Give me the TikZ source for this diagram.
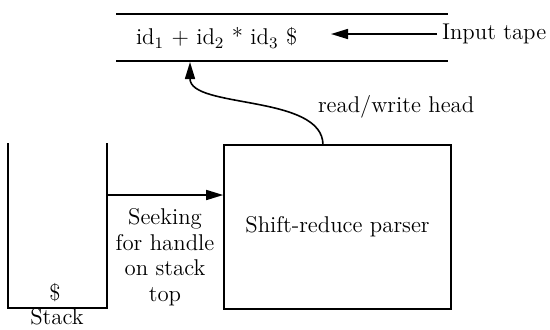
\documentclass[tikz,border=0pt]{standalone}
\usetikzlibrary{arrows.meta,positioning,calc}

\begin{document}
\begin{tikzpicture}[
  x=0.5pt, y=-0.5pt,
  font=\fontsize{11.4}{12.75}\selectfont, >={Triangle[length=8.5pt,width=5pt]},
  nd/.style={inner sep=0pt, outer sep=0pt},
  bx/.style={draw, inner sep=0pt, line width=0.8pt},
  every path/.style={line width=0.8pt}]
  \useasboundingbox (0,0) rectangle (550,329);
  % cinta de entrada
  \coordinate (t1) at (116,14);  \coordinate (t2) at (448,14);
  \coordinate (b1) at (116,61);  \coordinate (b2) at (448,61);
  \draw (t1)--(t2); \draw (b1)--(b2);
  \node[nd, anchor=west] (tape) at (136,38) {id$_1$ + id$_2$ * id$_3$ \$};
  \node[nd, anchor=west, outer sep=2.5pt] (inp) at (437,34) {Input tape};
  \coordinate (tp) at (331,34);
  % pila
  \node[nd, minimum width=49.5pt, minimum height=82.5pt] (stack) at (57.5,225.5) {};
  \node[nd] (bot) at (55,293) {\$};
  \node[nd] (lbl) at (57,317) {Stack};
  % analizador
  \node[bx, minimum width=113.5pt, minimum height=82pt] (parser) at (337.5,227) {Shift-reduce parser};
  \node[nd, align=center] (seek) at (165,257) {Seeking\\for handle\\on stack\\top};
  \node[nd, anchor=west] (rw) at (318,107) {read/write head};
  \coordinate (sk) at (107,195);
  \coordinate (hp) at (323,145);
  \coordinate (hd) at (190,62);
  % flechas
  \draw (stack.north west)--(stack.south west)--(stack.south east)--(stack.north east);
  \draw[->] (inp.west)--(tp);
  \draw[->] (sk)--(sk -| parser.west);
  \draw[->] (hp) .. controls (323,94) and (190,109) .. (hd);
\end{tikzpicture}
\end{document}
